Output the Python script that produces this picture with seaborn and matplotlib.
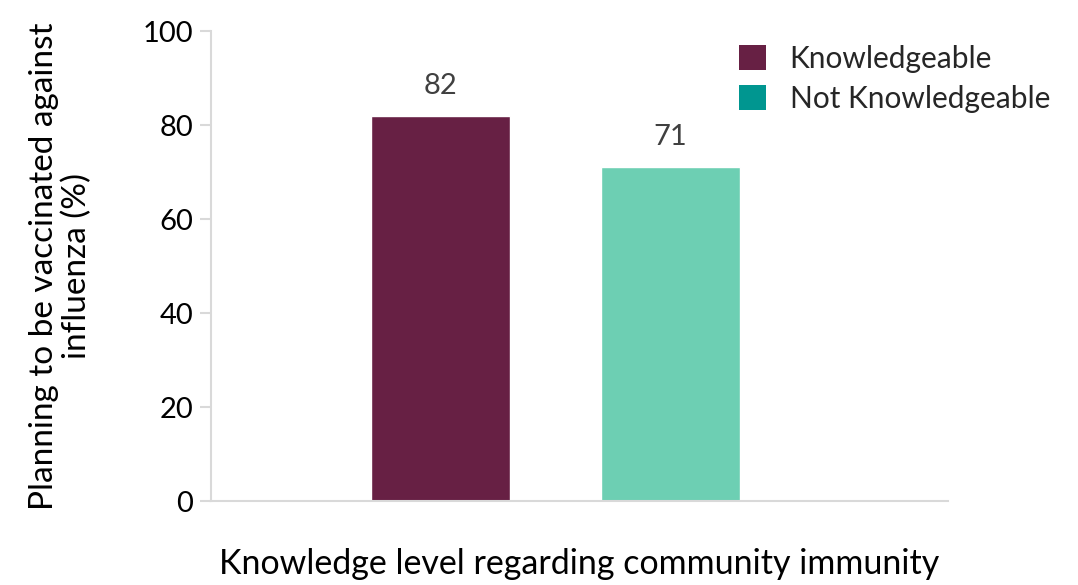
import matplotlib
matplotlib.use("Agg")
import matplotlib.pyplot as plt
import seaborn as sns
import pandas as pd
from matplotlib.patches import Patch

groups = ["Knowledgeable", "Not Knowledgeable"]
values = [82, 71]
bar_colors = ["#672044", "#6DCFB3"]
legend_colors = ["#672044", "#009690"]
y_ticks = [0, 20, 40, 60, 80, 100]

sns.set_theme(style="white")
plt.rcParams["font.family"] = ["Lato", "DejaVu Sans"]

df = pd.DataFrame({"group": groups, "value": values})

fig = plt.figure(figsize=(10.78, 5.85), dpi=100)
ax = fig.add_axes([211 / 1078, 84 / 585, (948 - 211) / 1078, (501 - 31) / 585])

sns.barplot(data=df, x="group", y="value", hue="group", palette=bar_colors,
            width=0.606, ax=ax, legend=False, saturation=1)

for i, v in enumerate(values):
    ax.text(i, v + 3.6, f"{v}", ha="center", va="bottom", fontsize=21, color="#404040")

ax.set_xlim(-1.0, 2.21)
ax.set_ylim(0, 100)
ax.set_yticks(y_ticks)
ax.set_xticks([])
ax.tick_params(axis="y", labelsize=21, colors="black", length=8, width=1.5, color="#D9D9D9",
               direction="out", left=True, pad=5)
for s in ["top", "right"]:
    ax.spines[s].set_visible(False)
for s in ["left", "bottom"]:
    ax.spines[s].set_color("#D9D9D9")
    ax.spines[s].set_linewidth(1.5)

ax.set_xlabel("Knowledge level regarding community immunity", fontsize=24.5, labelpad=34, color="black")
ax.set_ylabel("Planning to be vaccinated against\ninfluenza (%)", fontsize=24, color="black",
              labelpad=36, linespacing=1.1)

handles = [Patch(facecolor=c, edgecolor="none", label=g) for c, g in zip(legend_colors, groups)]
ax.legend(handles=handles, loc="upper right", bbox_to_anchor=(1.175, 1.027), frameon=False,
          fontsize=21.5, handlelength=0.9, handleheight=0.9, handletextpad=0.8, labelspacing=0.4)

fig.savefig("out.png", dpi=100)
